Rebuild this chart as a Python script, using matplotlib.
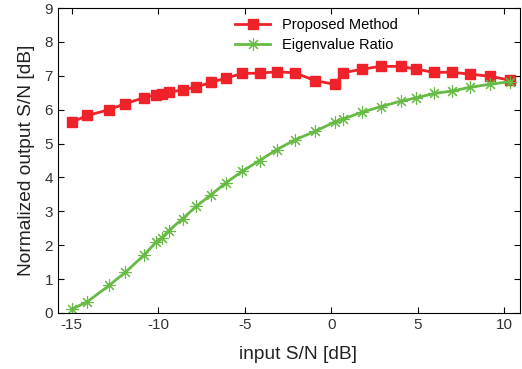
import matplotlib.pyplot as plt

plt.rcParams['font.family'] = ['Liberation Sans', 'DejaVu Sans']
plt.rcParams['axes.unicode_minus'] = False

# input S/N values (dB)
snr_in = [-15.0, -14.1, -12.85, -11.9, -10.8, -10.15, -9.8, -9.4, -8.6, -7.8,
          -6.95, -6.1, -5.15, -4.15, -3.15, -2.1, -0.95, 0.2, 0.7, 1.8,
          2.85, 4.0, 4.9, 5.95, 6.95, 8.0, 9.15, 10.35]

proposed = [5.63, 5.83, 6.0, 6.18, 6.36, 6.44, 6.47, 6.51, 6.59, 6.67,
            6.81, 6.93, 7.07, 7.08, 7.12, 7.09, 6.86, 6.75, 7.09, 7.2,
            7.28, 7.28, 7.2, 7.1, 7.11, 7.05, 6.99, 6.87]

eig_ratio = [0.11, 0.33, 0.81, 1.2, 1.72, 2.08, 2.21, 2.43, 2.78, 3.15,
             3.49, 3.84, 4.18, 4.5, 4.82, 5.11, 5.36, 5.64, 5.73, 5.93,
             6.09, 6.25, 6.35, 6.48, 6.55, 6.66, 6.75, 6.83]

fig = plt.figure(figsize=(5.22, 3.69), dpi=100)
ax = fig.add_axes([0.111, 0.152, 0.885, 0.826])

ax.plot(snr_in, proposed, color='#ee2228', lw=2, marker='s', ms=7.5,
        label='Proposed Method')
ax.plot(snr_in, eig_ratio, color='#66bb44', lw=2, marker=(8, 2, 0), ms=9,
        mew=0.8, label='Eigenvalue Ratio')

ax.set_xlim(-15.8, 10.9)
ax.set_ylim(0, 9)
ax.set_xticks([-15, -10, -5, 0, 5, 10])
ax.set_yticks(range(10))
ax.tick_params(direction='in', top=True, right=True, labelsize=11,
               labelcolor='#333333', length=4)
ax.set_xlabel('input S/N [dB]', fontsize=13.8, color='#222222')
ax.set_ylabel('Normalized output S/N [dB]', fontsize=13.8, color='#222222',
              labelpad=7)
ax.xaxis.set_label_coords(0.52, -0.108)

ax.legend(loc='upper left', bbox_to_anchor=(0.362, 1.0), frameon=False,
          fontsize=10.5, handlelength=2.4, borderaxespad=0.3,
          labelspacing=0.4)

fig.savefig('out.png', dpi=100)
